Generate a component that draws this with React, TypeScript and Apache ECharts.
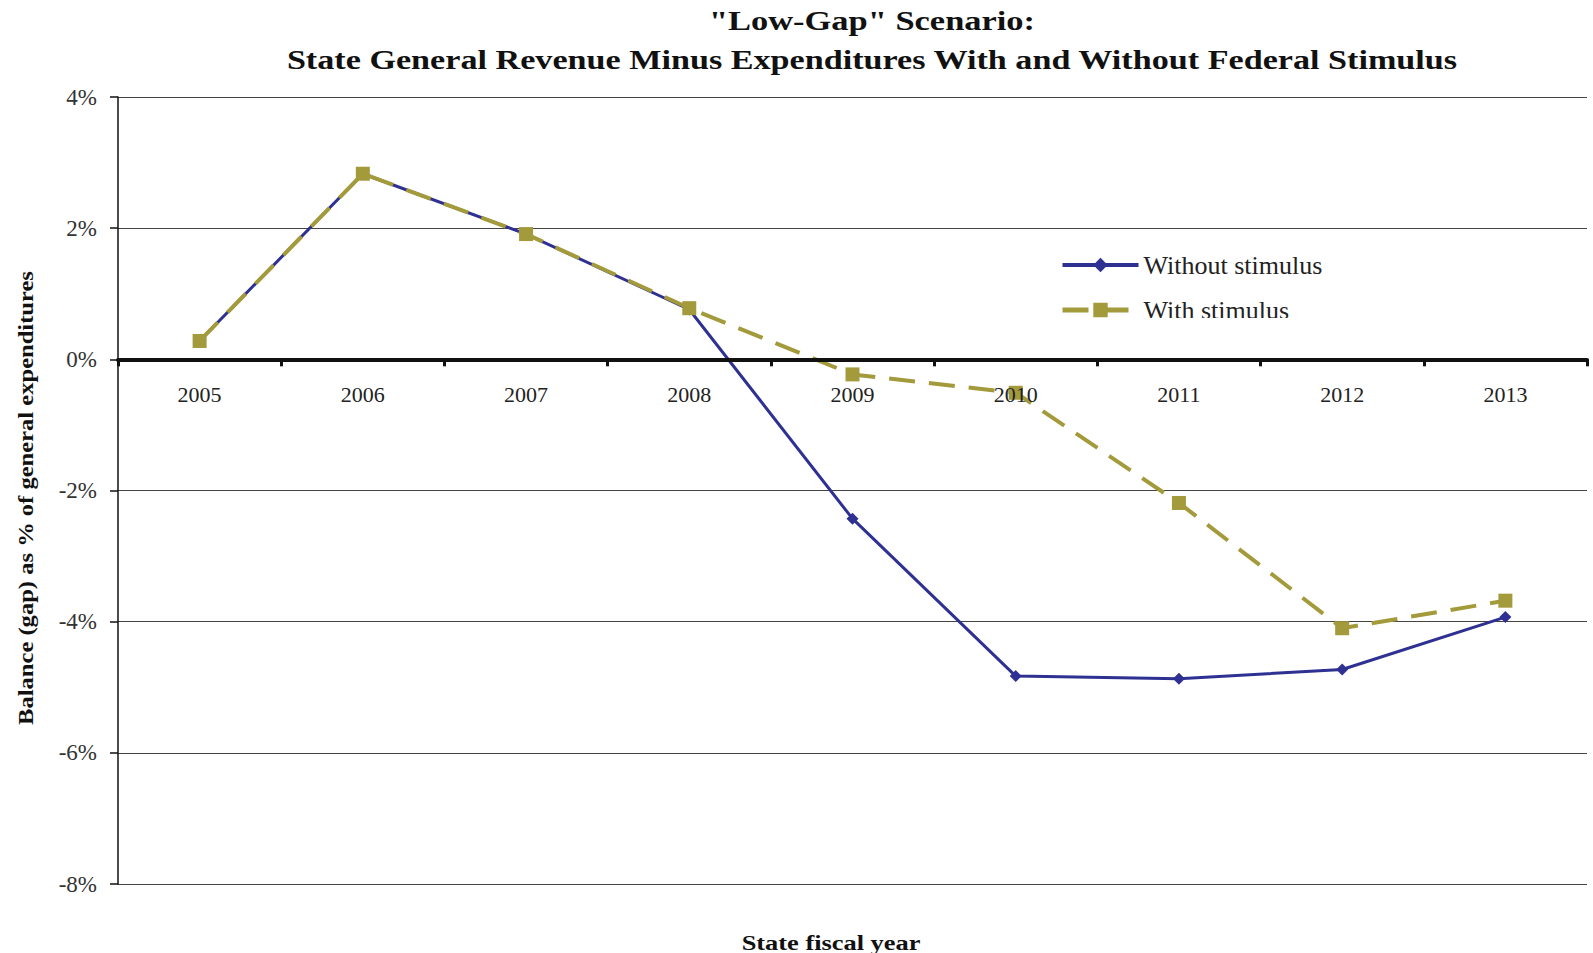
import React, { useEffect, useRef } from "react";
import * as echarts from "echarts";

const years = ["2005", "2006", "2007", "2008", "2009", "2010", "2011", "2012", "2013"];
const withoutStimulus = [0.28, 2.83, 1.91, 0.76, -2.43, -4.83, -4.87, -4.73, -3.93];
const withStimulus = [0.28, 2.83, 1.91, 0.78, -0.23, -0.51, -2.19, -4.1, -3.68];
const titleLines = ['"Low-Gap" Scenario:', "State General Revenue Minus Expenditures With and Without Federal Stimulus"];
const yAxisTitle = "Balance (gap) as % of general expenditures";
const xAxisTitle = "State fiscal year";
const yMin = -8;
const yMax = 4;

const FONT = "'Liberation Serif', 'DejaVu Serif', serif";
const BLUE = "#2e3192";
const OLIVE = "#a39a3c";

const GRID_TOP = 97;
const GRID_BOTTOM = 69;
const GRID_H = 953 - GRID_TOP - GRID_BOTTOM;

export default function App() {
  const ref = useRef<HTMLDivElement>(null);
  useEffect(() => {
    if (!ref.current) return;
    const chart = echarts.init(ref.current, null, { renderer: "svg" });
    chart.setOption({
      animation: false,
      backgroundColor: "#ffffff",
      textStyle: { fontFamily: FONT },
      grid: { left: 118, right: 6, top: GRID_TOP, bottom: GRID_BOTTOM, containLabel: false },
      legend: {
        orient: "vertical",
        left: 1055,
        top: 247,
        itemWidth: 76,
        itemHeight: 18,
        itemGap: 19,
        textStyle: { fontFamily: FONT, fontSize: 26, color: "#222" },
        data: [
          { name: "Without stimulus", lineStyle: { width: 4 } },
          { name: "With stimulus", lineStyle: { width: 5 } },
        ],
      },
      graphic: [
        {
          type: "text",
          x: 872,
          y: 7,
          scaleX: 1.23,
          style: {
            text: titleLines[0],
            fontFamily: FONT,
            fontSize: 28,
            fontWeight: "bold",
            fill: "#111",
            align: "center",
          },
        },
        {
          type: "text",
          x: 872,
          y: 46,
          scaleX: 1.22,
          style: {
            text: titleLines[1],
            fontFamily: FONT,
            fontSize: 28,
            fontWeight: "bold",
            fill: "#111",
            align: "center",
          },
        },
        {
          type: "text",
          x: 26,
          y: 498,
          rotation: Math.PI / 2,
          scaleX: 1.17,
          style: {
            text: yAxisTitle,
            fontFamily: FONT,
            fontSize: 21,
            fontWeight: "bold",
            fill: "#111",
            align: "center",
            verticalAlign: "middle",
          },
        },
        {
          type: "text",
          x: 831,
          y: 942,
          scaleX: 1.2,
          style: {
            text: xAxisTitle,
            fontFamily: FONT,
            fontSize: 22,
            fontWeight: "bold",
            fill: "#111",
            align: "center",
            verticalAlign: "middle",
          },
        },
        {
          type: "rect",
          shape: { x: 1134, y: 318, width: 200, height: 20 },
          style: { fill: "#ffffff" },
          z: 100,
        },
      ],
      xAxis: {
        type: "category",
        data: years,
        boundaryGap: true,
        offset: -(GRID_H * (0 - yMin)) / (yMax - yMin),
        axisLine: { onZero: false, lineStyle: { color: "#111", width: 4 } },
        axisTick: { show: true, length: 7, lineStyle: { color: "#111", width: 3 } },
        axisLabel: { fontFamily: FONT, fontSize: 22, color: "#222", margin: 24 },
        splitLine: { show: false },
        z: 5,
      },
      yAxis: {
        type: "value",
        min: yMin,
        max: yMax,
        interval: 2,
        axisLine: { show: true, lineStyle: { color: "#111", width: 1.5 } },
        axisTick: { show: true, length: 8, lineStyle: { color: "#111", width: 1.5 } },
        axisLabel: { fontFamily: FONT, fontSize: 23, color: "#333", margin: 21, formatter: "{value}%" },
        splitLine: { show: true, lineStyle: { color: "#444", width: 1 } },
      },
      series: [
        {
          name: "Without stimulus",
          type: "line",
          data: withoutStimulus,
          symbol: "diamond",
          symbolSize: 12,
          itemStyle: { color: BLUE },
          lineStyle: { color: BLUE, width: 3 },
          z: 2,
        },
        {
          name: "With stimulus",
          type: "line",
          data: withStimulus,
          symbol: "rect",
          symbolSize: 14,
          itemStyle: { color: OLIVE },
          lineStyle: { color: OLIVE, width: 4, type: [26, 14] },
          z: 3,
        },
      ],
    });
    return () => chart.dispose();
  }, []);
  return <div ref={ref} style={{ position: "fixed", left: 0, top: 0, width: 1593, height: 953 }} />;
}
